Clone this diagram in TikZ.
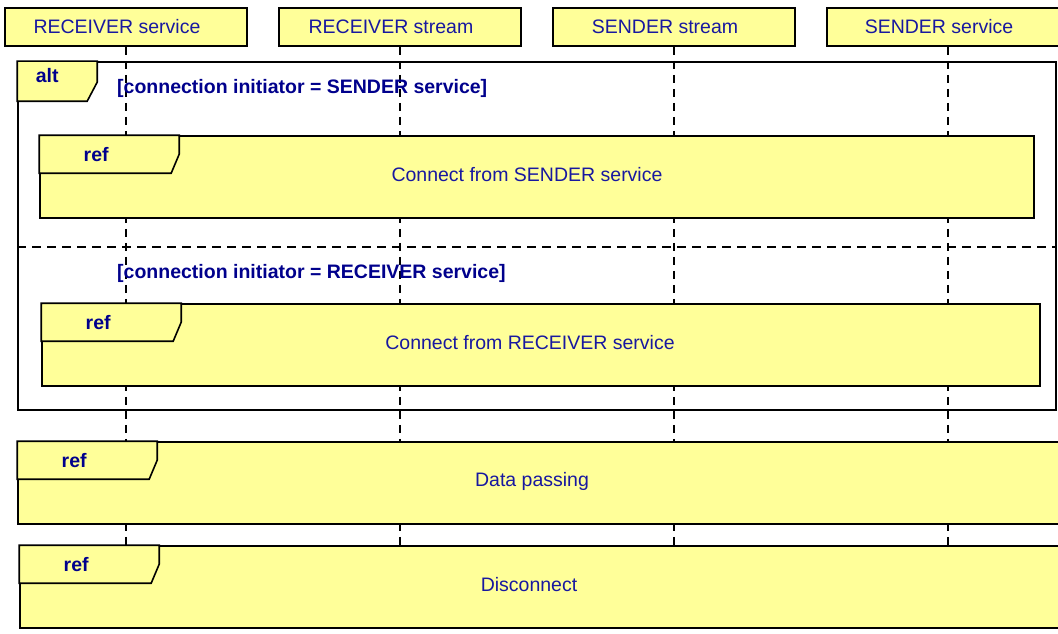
\documentclass[tikz,border=0pt]{standalone}
\usepackage{fontspec}
\setmainfont{Liberation Sans}
\usetikzlibrary{positioning}

\definecolor{noteyellow}{RGB}{255,255,153}
\definecolor{msgblue}{RGB}{24,24,160}
\definecolor{guardblue}{RGB}{0,0,140}

\tikzset{
  head/.style={draw, line width=1.6pt, fill=noteyellow, minimum width=242pt, minimum height=38pt, inner sep=0pt},
  headtext/.style={text=msgblue, font=\fontsize{19.5}{23}\selectfont},
  lifeline/.style={line width=1.6pt, dash pattern=on 8pt off 6pt},
  frame/.style={draw, line width=1.6pt, inner sep=0pt},
  refbox/.style={draw, line width=1.6pt, fill=noteyellow, inner sep=0pt, minimum height=82pt},
  tagline/.style={draw, line width=1.6pt, fill=noteyellow},
  tagtext/.style={text=guardblue, font=\fontsize{19.5}{23}\selectfont\bfseries},
  guard/.style={text=guardblue, font=\fontsize{19.5}{23}\selectfont\bfseries, anchor=west, inner sep=0pt}
}

\begin{document}
\begin{tikzpicture}[x=1pt, y=-1pt]
\useasboundingbox (0,0) rectangle (1058,634);
\coordinate (bottom) at (0,634);

% lifeline heads
\node (rsvc)[head, label={[headtext, xshift=-9pt]center:RECEIVER service}] at (126,27) {};
\node (rstr)[head, right=30.4pt of rsvc, label={[headtext, xshift=-9pt]center:RECEIVER stream}] {};
\node (sstr)[head, right=30.4pt of rstr, label={[headtext, xshift=-9pt]center:SENDER stream}] {};
\node (ssvc)[head, right=30.4pt of sstr, label={[headtext, xshift=-9pt]center:SENDER service}] {};

\draw [lifeline](rsvc.south)--(rsvc.south |- bottom);
\draw [lifeline](rstr.south)--(rstr.south |- bottom);
\draw [lifeline](sstr.south)--(sstr.south |- bottom);
\draw [lifeline](ssvc.south)--(ssvc.south |- bottom);

% alt fragment
\node (alt)[frame, minimum width=1038pt, minimum height=348pt] at (537,236) {};
\draw [tagline](alt.north west) -- ++(80,0) -- ++(0,21) -- ++(-10,19) -- ++(-70,0) -- cycle;
\node (alttag)[tagtext] at ([shift={(30,14)}]alt.north west) {alt};
\node (guardA)[guard] at (117,88) {[connection initiator = SENDER service]};
\coordinate (sepl) at (alt.west |- 0,247);
\coordinate (sepr) at (alt.east |- 0,247);
\draw [line width=1.6pt, dash pattern=on 9pt off 6pt](sepl)--(sepr);
\node (guardB)[guard] at (117,273) {[connection initiator = RECEIVER service]};

% interaction uses
\node (refA)[refbox, minimum width=994pt, label={[headtext, xshift=-10pt, yshift=2pt]center:Connect from SENDER service}] at (537,177) {};
\node (refB)[refbox, minimum width=998pt, label={[headtext, xshift=-11pt, yshift=2pt]center:Connect from RECEIVER service}] at (541,345) {};
\node (refC)[refbox, minimum width=1052pt, label={[headtext, xshift=-12pt, yshift=2pt]center:Data passing}] at (544,483) {};
\node (refD)[refbox, minimum width=1050pt, label={[headtext, xshift=-16pt, yshift=2pt]center:Disconnect}] at (545,587) {};

\foreach \r in {refA,refB,refC,refD}{
  \draw [tagline](\r.north west) -- ++(140,0) -- ++(0,19) -- ++(-8,19) -- ++(-132,0) -- cycle;
  \node (\r tag)[tagtext] at ([shift={(57,19)}]\r.north west) {ref};
}
\end{tikzpicture}
\end{document}
